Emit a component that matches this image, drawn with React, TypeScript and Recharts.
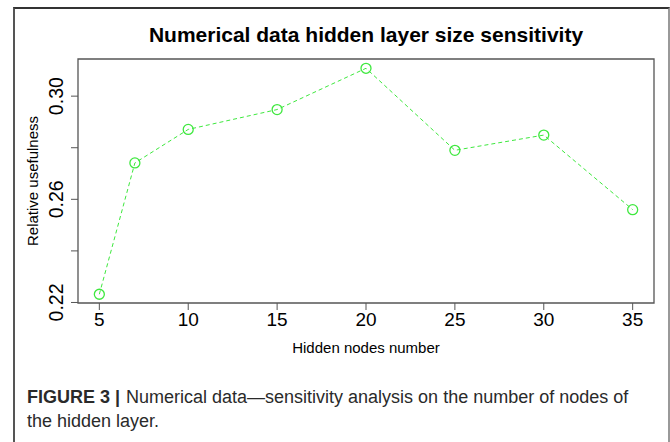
import { LineChart, Line, XAxis, YAxis, ReferenceArea } from "recharts";

const hiddenNodes = [5, 7, 10, 15, 20, 25, 30, 35];
const usefulness = [0.2232, 0.2741, 0.2871, 0.2948, 0.3108, 0.279, 0.2849, 0.256];
const xTicks = [5, 10, 15, 20, 25, 30, 35];
const yTicks = [0.22, 0.24, 0.26, 0.28, 0.3];
const yLabelled = [0.22, 0.26, 0.3];

const data = hiddenNodes.map((x, i) => ({ x, y: usefulness[i] }));

const xDomain: [number, number] = [3.8, 36.2];
const yDomain: [number, number] = [0.2198, 0.3144];

const font = '"Liberation Sans", Arial, sans-serif';
const green = "#3ee83e";
const axisGray = "#555";

function YTick(props: any) {
  const { x, y, payload } = props;
  const v = Math.round(payload.value * 100) / 100;
  if (!yLabelled.some((t) => Math.abs(t - v) < 1e-9)) return <g />;
  return (
    <text
      x={x}
      y={y}
      transform={`rotate(-90, ${x}, ${y})`}
      textAnchor="middle"
      fontSize={19.5}
      fontFamily={font}
      fill="#000"
    >
      {v.toFixed(2)}
    </text>
  );
}

function Ring(props: any) {
  const { cx, cy } = props;
  return <circle cx={cx} cy={cy} r={5} fill="none" stroke={green} strokeWidth={1.3} />;
}

const captionText: any = {
  position: "absolute",
  fontSize: 18,
  lineHeight: "24px",
  color: "#2a2a2a",
  whiteSpace: "nowrap",
};

export default function App() {
  return (
    <div style={{ position: "absolute", left: 0, top: 0, width: 670, height: 442, background: "#fff", overflow: "hidden", fontFamily: font }}>
      <div
        style={{
          position: "absolute",
          left: 13,
          top: 7,
          width: 653,
          height: 460,
          borderTop: "2px solid #333",
          borderLeft: "2px solid #555",
          borderRight: "2px solid #999",
        }}
      />
      <div
        style={{
          position: "absolute",
          left: 78,
          top: 24,
          width: 576,
          textAlign: "center",
          fontSize: 21,
          lineHeight: "21px",
          fontWeight: "bold",
          color: "#000",
        }}
      >
        Numerical data hidden layer size sensitivity
      </div>
      <div style={{ position: "absolute", left: 0, top: 0 }}>
        <LineChart width={670} height={442} data={data} margin={{ top: 59, right: 16, bottom: 89, left: 18 }}>
          <XAxis
            type="number"
            dataKey="x"
            domain={xDomain}
            ticks={xTicks}
            allowDataOverflow
            axisLine={false}
            tickLine={{ stroke: axisGray }}
            tickSize={7}
            tickMargin={3}
            height={50}
            tick={{ fontSize: 19, fill: "#000", fontFamily: font }}
            label={{ value: "Hidden nodes number", position: "insideBottom", offset: 0, fontSize: 15, fill: "#000", fontFamily: font }}
          />
          <YAxis
            type="number"
            domain={yDomain}
            ticks={yTicks}
            allowDataOverflow
            axisLine={false}
            tickLine={{ stroke: axisGray }}
            tickSize={7}
            tickMargin={8}
            width={60}
            tick={<YTick />}
            label={{
              value: "Relative usefulness",
              angle: -90,
              position: "insideLeft",
              offset: 15,
              fontSize: 15,
              fill: "#000",
              fontFamily: font,
              style: { textAnchor: "middle" },
            }}
          />
          <ReferenceArea
            x1={xDomain[0]}
            x2={xDomain[1]}
            y1={yDomain[0]}
            y2={yDomain[1]}
            fill="none"
            stroke={axisGray}
            strokeWidth={1.3}
            ifOverflow="visible"
          />
          <Line
            type="linear"
            dataKey="y"
            stroke={green}
            strokeWidth={1}
            strokeDasharray="4 3"
            dot={<Ring />}
            activeDot={false}
            isAnimationActive={false}
          />
        </LineChart>
      </div>
      <div style={{ ...captionText, left: 27, top: 385, fontWeight: "bold" }}>FIGURE 3 |</div>
      <div style={{ ...captionText, left: 126, top: 385 }}>
        Numerical data—sensitivity analysis on the number of nodes of
      </div>
      <div style={{ ...captionText, left: 27, top: 409 }}>the hidden layer.</div>
    </div>
  );
}
